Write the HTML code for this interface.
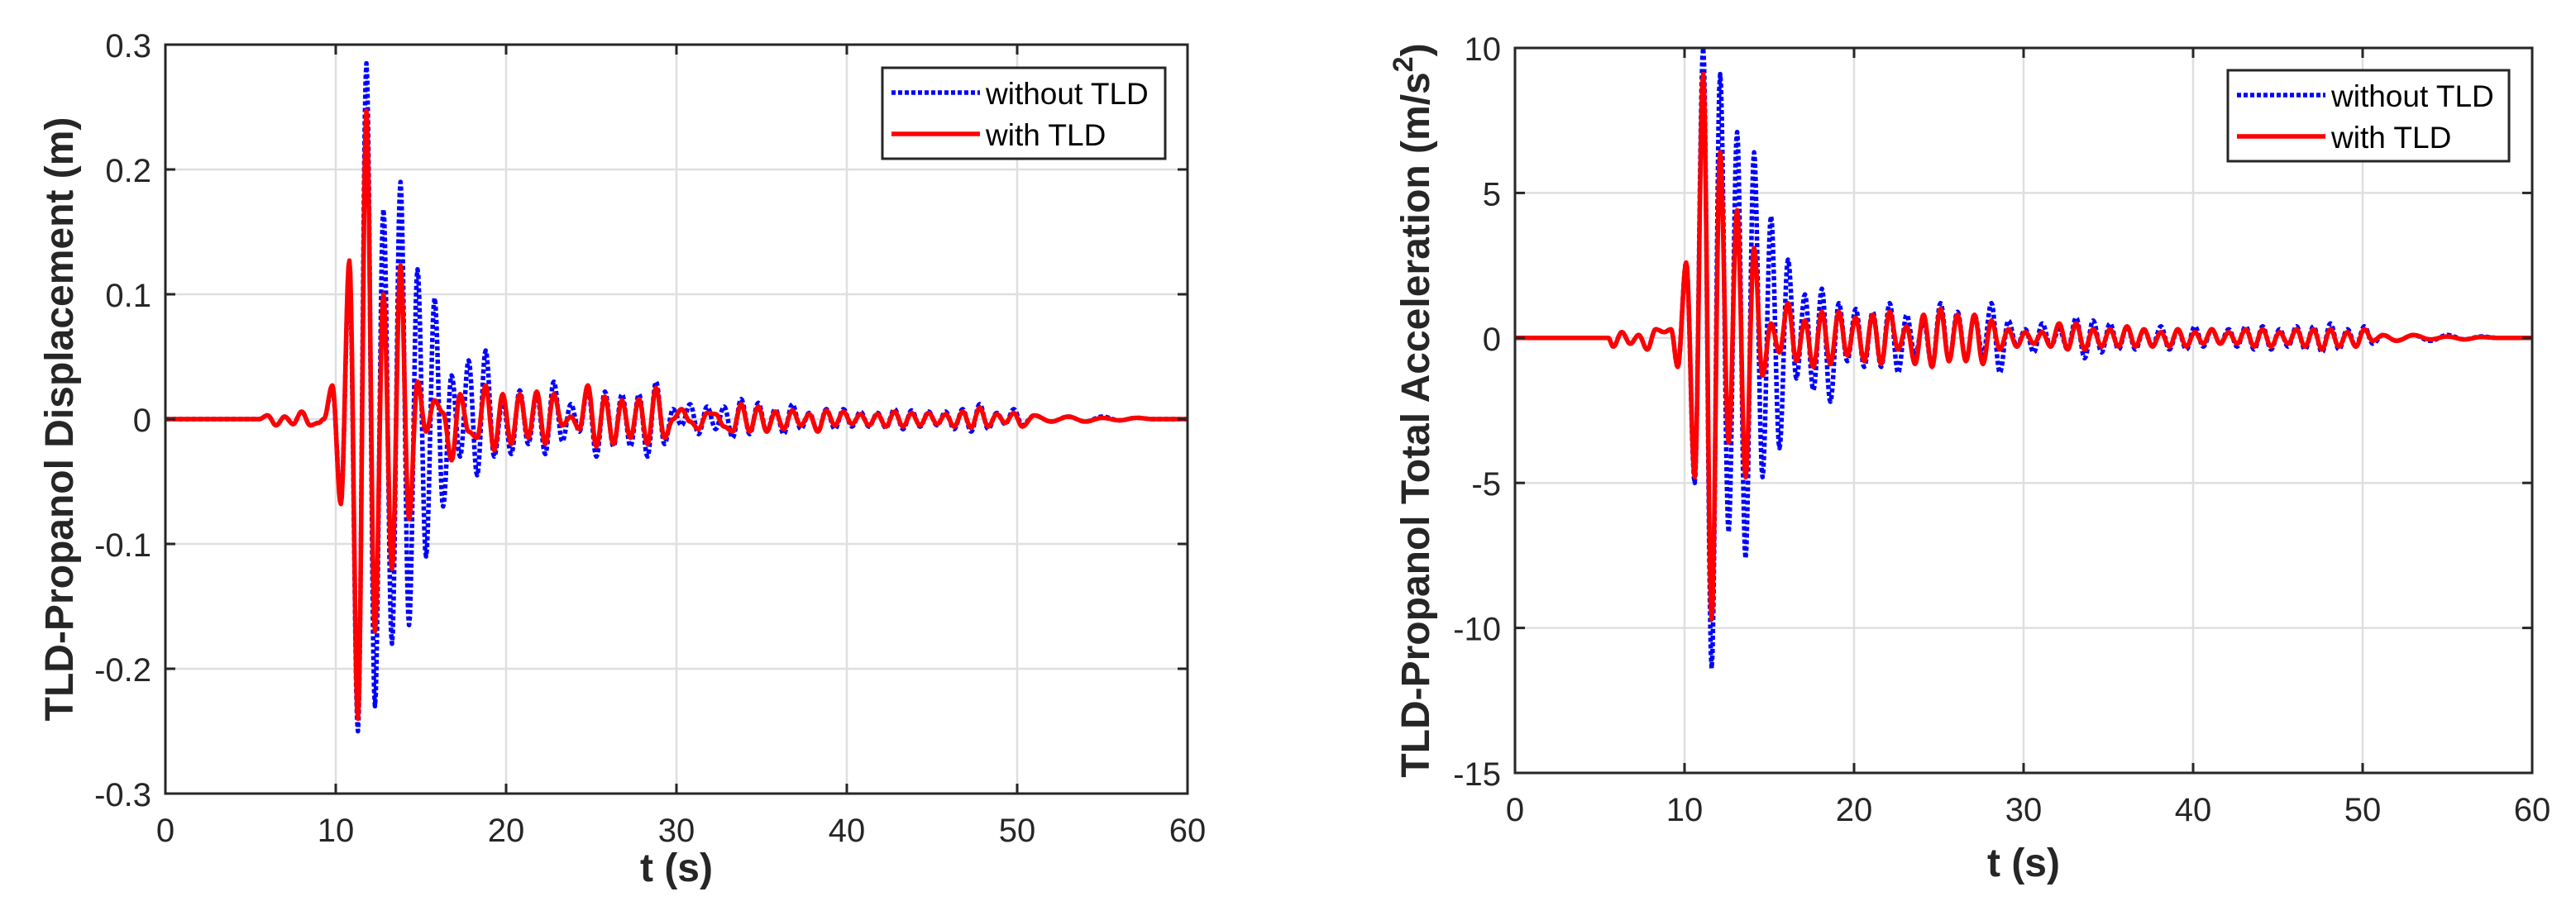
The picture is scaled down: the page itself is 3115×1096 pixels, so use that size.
<!DOCTYPE html>
<html><head><meta charset="utf-8"><style>
html,body{margin:0;padding:0;background:#fff;}
svg{display:block;font-family:"Liberation Sans",Arial,sans-serif;}
</style></head><body>
<svg id="fig" width="3115" height="1096" viewBox="0 0 3115 1096" xmlns="http://www.w3.org/2000/svg">
<rect width="3115" height="1096" fill="#fff"/>
</svg>
<script>
const tDisp=[0,5.5,6,6.5,7,7.5,8,8.5,9,9.3,
9.8,10.3,10.8,11.3,11.8,12.3,12.8,13.3,13.8,14.3,
14.8,15.3,15.8,16.3,16.8,17.3,17.8,18.3,18.8,19.3,
19.8,20.3,20.8,21.3,21.8,22.3,22.8,23.3,23.8,24.3,
24.8,25.3,25.8,26.3,26.8,27.3,27.8,28.3,28.8,29.3,
29.8,30.3,30.8,31.3,31.8,32.3,32.8,33.3,33.8,34.3,
34.8,35.3,35.8,36.3,36.8,37.3,37.8,38.3,38.8,39.3,
39.8,40.3,40.8,41.3,41.8,42.3,42.8,43.3,43.8,44.3,
44.8,45.3,45.8,46.3,46.8,47.3,47.8,48.3,48.8,49.3,
49.8,50.3,
51,52,53,54,55,56,57,58,60];
const dispWithout=[0,0,0.003,-0.005,0.002,-0.004,0.006,-0.005,-0.003,0.0,
0.025,-0.065,0.12,-0.25,0.285,-0.23,0.168,-0.18,0.19,-0.165,
0.12,-0.11,0.097,-0.07,0.035,-0.03,0.047,-0.045,0.055,-0.03,
0.015,-0.028,0.023,-0.02,0.02,-0.028,0.03,-0.018,0.012,-0.01,
0.025,-0.03,0.022,-0.022,0.02,-0.022,0.02,-0.03,0.03,-0.02,
0.008,-0.005,0.012,-0.012,0.01,-0.008,0.01,-0.015,0.016,-0.012,
0.013,-0.01,0.008,-0.012,0.012,-0.008,0.005,-0.01,0.008,-0.008,
0.008,-0.006,0.006,-0.006,0.005,-0.007,0.008,-0.008,0.007,-0.006,
0.006,-0.005,0.006,-0.008,0.008,-0.01,0.012,-0.008,0.005,-0.004,
0.008,-0.005,
0.003,-0.002,0.002,-0.002,0.002,-0.001,0.001,0,0];
const dispWith=[0,0,0.003,-0.005,0.002,-0.004,0.006,-0.005,-0.003,0.0,
0.027,-0.068,0.127,-0.24,0.247,-0.17,0.1,-0.12,0.123,-0.08,
0.03,-0.01,0.015,0.005,-0.033,0.02,-0.01,-0.015,0.027,-0.025,
0.02,-0.02,0.02,-0.015,0.022,-0.02,0.02,-0.005,0.002,-0.008,
0.027,-0.022,0.018,-0.02,0.015,-0.015,0.016,-0.02,0.025,-0.015,
0.0,0.008,-0.002,-0.008,0.005,0.004,-0.006,-0.01,0.012,-0.01,
0.01,-0.01,0.006,-0.008,0.007,-0.005,0.004,-0.01,0.007,-0.005,
0.006,-0.004,0.004,-0.005,0.004,-0.006,0.006,-0.006,0.005,-0.005,
0.005,-0.004,0.004,-0.006,0.006,-0.007,0.009,-0.006,0.004,-0.003,
0.005,-0.006,
0.003,-0.002,0.002,-0.002,0.001,-0.001,0.001,0,0];
const tAcc=[0,5.5,5.8,6.3,6.8,7.3,7.8,8.3,8.8,9.2,
9.6,10.1,10.6,11.1,11.6,12.1,12.6,13.1,13.6,14.1,
14.6,15.1,15.6,16.1,16.6,17.1,17.6,18.1,18.6,19.1,
19.6,20.1,20.6,21.1,21.6,22.1,22.6,23.1,23.6,24.1,
24.6,25.1,25.6,26.1,26.6,27.1,27.6,28.1,28.6,29.1,
29.6,30.1,30.6,31.1,31.6,32.1,32.6,33.1,33.6,34.1,
34.6,35.1,35.6,36.1,36.6,37.1,37.6,38.1,38.6,39.1,
39.6,40.1,40.6,41.1,41.6,42.1,42.6,43.1,43.6,44.1,
44.6,45.1,45.6,46.1,46.6,47.1,47.6,48.1,48.6,49.1,
49.6,50.1,50.6,
51.2,52,53,54,55,56,57,58,60];
const accWithout=[0,0,-0.3,0.2,-0.2,0.1,-0.4,0.3,0.2,0.3,
-1.0,2.6,-5.0,10.0,-11.4,9.1,-6.7,7.1,-7.6,6.4,
-4.8,4.2,-3.8,2.7,-1.4,1.5,-1.8,1.7,-2.2,1.2,
-0.8,1.0,-1.0,0.9,-1.0,1.2,-1.2,0.8,-0.6,0.6,
-1.0,1.2,-0.8,0.9,-0.8,0.8,-0.6,1.2,-1.2,0.6,
-0.3,0.3,-0.5,0.5,-0.3,0.3,-0.4,0.7,-0.7,0.6,
-0.5,0.5,-0.4,0.4,-0.4,0.3,-0.3,0.4,-0.4,0.3,
-0.4,0.4,-0.3,0.3,-0.2,0.3,-0.3,0.4,-0.4,0.4,
-0.4,0.3,-0.3,0.4,-0.4,0.4,-0.5,0.5,-0.4,0.3,
-0.3,0.4,-0.2,
0.1,-0.1,0.1,-0.1,0.1,-0.05,0.05,0,0];
const accWith=[0,0,-0.3,0.2,-0.2,0.1,-0.4,0.3,0.2,0.3,
-1.0,2.6,-4.8,9.1,-9.7,6.4,-3.6,4.4,-4.8,3.1,
-1.3,0.5,-0.5,1.2,-0.8,0.6,-1.0,0.9,-0.9,0.9,
-0.6,0.7,-0.8,0.8,-0.9,0.9,-0.4,0.4,-0.9,0.8,
-1.0,1.0,-0.8,0.8,-0.8,0.8,-0.9,0.6,-0.4,0.3,
-0.3,0.2,-0.2,0.2,-0.3,0.5,-0.4,0.5,-0.4,0.3,
-0.3,0.3,-0.3,0.4,-0.3,0.3,-0.3,0.2,-0.3,0.3,
-0.3,0.2,-0.2,0.3,-0.2,0.2,-0.2,0.3,-0.3,0.3,
-0.3,0.2,-0.2,0.3,-0.3,0.3,-0.4,0.3,-0.3,0.2,
-0.3,0.3,-0.1,
0.1,-0.1,0.1,-0.05,0.05,-0.05,0.03,0,0];
const xTicks=[0,10,20,30,40,50,60];
const dispYTicks=[-0.3,-0.2,-0.1,0,0.1,0.2,0.3];
const dispYLabels=["-0.3","-0.2","-0.1","0","0.1","0.2","0.3"];
const accYTicks=[-15,-10,-5,0,5,10];
const accYLabels=["-15","-10","-5","0","5","10"];

const NS="http://www.w3.org/2000/svg";
const svg=document.getElementById('fig');
function mk(tag,attrs,parent){const e=document.createElementNS(NS,tag);for(const k in attrs)e.setAttribute(k,attrs[k]);(parent||svg).appendChild(e);return e;}

function drawPanel(cfg){
  const g=mk('g',{});
  
  
  const {L,R,T,B,ymin,ymax}=cfg;
  const sx=t=>L+(t-0)/(60-0)*(R-L);
  const sy=v=>B-(v-ymin)/(ymax-ymin)*(B-T);
  // grid
  xTicks.forEach(t=>{if(t>0&&t<60){const l=mk('line',{x1:sx(t),x2:sx(t),y1:T,y2:B,stroke:'#dfdfdf','stroke-width':2.5},g);
    
    }});
  cfg.yTicks.forEach(v=>{if(v>ymin&&v<ymax){const l=mk('line',{x1:L,x2:R,y1:sy(v),y2:sy(v),stroke:'#dfdfdf','stroke-width':2.5},g);
    
    }});
  // series
  function path(ts,vs,stroke,dash,name){
    let d='';const n=Math.min(ts.length,vs.length);
    for(let i=0;i<n;i++){
      if(i===0){d+='M'+sx(ts[0]).toFixed(1)+','+sy(vs[0]).toFixed(1);continue;}
      const t0=ts[i-1],t1=ts[i],v0=vs[i-1],v1=vs[i];
      for(let k=1;k<=10;k++){const f=k/10;const w=(1-Math.cos(Math.PI*f))/2;
        d+='L'+sx(t0+(t1-t0)*f).toFixed(1)+','+sy(v0+(v1-v0)*w).toFixed(1);}
    }
    const p=mk('path',{d:d,fill:'none',stroke:stroke,'stroke-width':5.5,'stroke-linejoin':'round'},g);
    if(dash)p.setAttribute('stroke-dasharray',dash);
    
    
  }
  path(cfg.t,cfg.without,'#0000ff','5 3','series-without-tld');
  path(cfg.t,cfg.with,'#ff0000',null,'series-with-tld');
  // box
  const box=mk('rect',{x:L,y:T,width:R-L,height:B-T,fill:'none',stroke:'#262626','stroke-width':3},g);
  
  
  // ticks + labels
  xTicks.forEach(t=>{
    mk('line',{x1:sx(t),x2:sx(t),y1:B,y2:B-12,stroke:'#262626','stroke-width':3},g);
    mk('line',{x1:sx(t),x2:sx(t),y1:T,y2:T+12,stroke:'#262626','stroke-width':3},g);
    const tx=mk('text',{x:sx(t),y:B+58,'text-anchor':'middle','font-size':40,fill:'#262626'},g);
    tx.textContent=String(t);
    
    
  });
  cfg.yTicks.forEach((v,i)=>{
    mk('line',{x1:L,x2:L+12,y1:sy(v),y2:sy(v),stroke:'#262626','stroke-width':3},g);
    mk('line',{x1:R,x2:R-12,y1:sy(v),y2:sy(v),stroke:'#262626','stroke-width':3},g);
    const tx=mk('text',{x:L-17,y:sy(v)+15,'text-anchor':'end','font-size':40,fill:'#262626'},g);
    tx.textContent=cfg.yLabels[i];
    
    
  });
  // x label
  const xl=mk('text',{x:(L+R)/2,y:cfg.xlY,'text-anchor':'middle','font-size':48,'font-weight':'bold',fill:'#262626'},g);
  xl.textContent='t (s)';
  
  
  // y label
  const yl=mk('text',{x:0,y:0,'text-anchor':'middle','font-size':48,'font-weight':'bold',fill:'#262626',transform:'translate('+cfg.ylX+','+((T+B)/2)+') rotate(-90)'},g);
  
  
  if(cfg.sup){
    yl.appendChild(document.createTextNode(cfg.ylabel));
    const s=mk('tspan',{'font-size':34,dy:-20},yl);s.textContent='2';
    const s2=mk('tspan',{dy:20},yl);s2.textContent=')';
  } else yl.textContent=cfg.ylabel;
  // legend
  const lg=mk('g',{},g);
  
  
  const lb=cfg.leg;
  mk('rect',{x:lb.x,y:lb.y,width:lb.w,height:lb.h,fill:'#fff',stroke:'#262626','stroke-width':3},lg);
  const e1=mk('g',{},lg);
  
  
  mk('line',{x1:lb.x+11,x2:lb.x+118,y1:lb.y+30,y2:lb.y+30,stroke:'#0000ff','stroke-width':5.5,'stroke-dasharray':'5 3'},e1);
  const t1=mk('text',{x:lb.x+125,y:lb.y+44,'font-size':37,fill:'#000'},e1);t1.textContent='without TLD';
  const e2=mk('g',{},lg);
  
  
  mk('line',{x1:lb.x+11,x2:lb.x+118,y1:lb.y+80,y2:lb.y+80,stroke:'#ff0000','stroke-width':5.5},e2);
  const t2=mk('text',{x:lb.x+125,y:lb.y+94,'font-size':37,fill:'#000'},e2);t2.textContent='with TLD';
}

drawPanel({name:'displacement-chart',L:200,R:1436,T:54,B:960,ymin:-0.3,ymax:0.3,
  yTicks:dispYTicks,yLabels:dispYLabels,t:tDisp,without:dispWithout,with:dispWith,
  xlY:1066,ylX:88,ylabel:'TLD-Propanol Displacement (m)',sup:false,
  leg:{x:1067,y:82,w:342,h:110}});
drawPanel({name:'acceleration-chart',L:1832,R:3062,T:58,B:935,ymin:-15,ymax:10,
  yTicks:accYTicks,yLabels:accYLabels,t:tAcc,without:accWithout,with:accWith,
  xlY:1060,ylX:1728,ylabel:'TLD-Propanol Total Acceleration (m/s',sup:true,
  leg:{x:2694,y:85,w:340,h:110}});
</script>
</body></html>
